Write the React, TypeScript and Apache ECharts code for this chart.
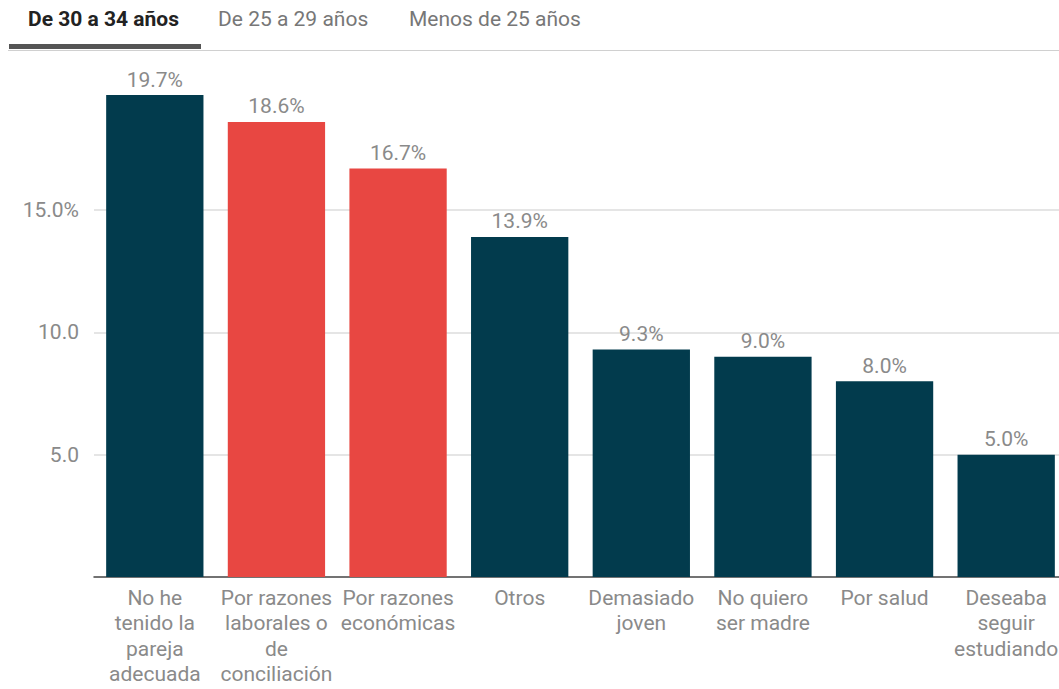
import React, { useEffect, useRef } from "react";
import * as echarts from "echarts";

const categories = [
  "No he\ntenido la\npareja\nadecuada",
  "Por razones\nlaborales o\nde\nconciliación",
  "Por razones\neconómicas",
  "Otros",
  "Demasiado\njoven",
  "No quiero\nser madre",
  "Por salud",
  "Deseaba\nseguir\nestudiando",
];
const values = [19.7, 18.6, 16.7, 13.9, 9.3, 9.0, 8.0, 5.0];
const highlighted = [false, true, true, false, false, false, false, false];
const tabs = ["De 30 a 34 años", "De 25 a 29 años", "Menos de 25 años"];
const tabX = [28, 218, 409];

const DARK = "#023b4d";
const RED = "#e84742";
const FONT = "Roboto, 'Noto Sans', sans-serif";
const FS = 21;

export default function App() {
  const ref = useRef<HTMLDivElement>(null);
  useEffect(() => {
    if (!ref.current) return;
    const chart = echarts.init(ref.current, undefined, { renderer: "svg" });
    chart.setOption({
      animation: false,
      backgroundColor: "#ffffff",
      textStyle: { fontFamily: FONT },
      grid: {
        left: 94,
        right: 0,
        top: 95,
        bottom: 112,
        containLabel: false,
        outerBoundsMode: "none",
      },
      xAxis: {
        type: "category",
        data: categories,
        axisTick: { show: false },
        axisLine: { show: true, lineStyle: { color: "#444", width: 1.5 } },
        axisLabel: {
          color: "#8a8a8a",
          fontSize: FS,
          lineHeight: 25.5,
          margin: 8,
          interval: 0,
          fontFamily: FONT,
        },
      },
      yAxis: {
        type: "value",
        min: 0,
        max: 19.7,
        interval: 5,
        axisLine: { show: false },
        axisTick: { show: false },
        splitLine: {
          show: true,
          showMinLine: false,
          showMaxLine: false,
          lineStyle: { color: "#dcdcdc", width: 1.5 },
        },
        axisLabel: {
          showMinLabel: false,
          showMaxLabel: false,
          color: "#8a8a8a",
          fontSize: FS,
          margin: 15,
          fontFamily: FONT,
          formatter: (v: number) => (v === 15 ? "15.0%" : v.toFixed(1)),
        },
      },
      series: [
        {
          type: "bar",
          barCategoryGap: "20%",
          data: values.map((v, i) => ({
            value: v,
            itemStyle: { color: highlighted[i] ? RED : DARK },
          })),
          label: {
            show: true,
            position: "top",
            distance: 5,
            color: "#8a8a8a",
            fontSize: FS,
            fontFamily: FONT,
            formatter: (p: any) => p.value.toFixed(1) + "%",
          },
        },
      ],
      graphic: [
        ...tabs.map((t, i) => ({
          type: "text",
          left: tabX[i],
          top: 8,
          style: {
            text: t,
            fontSize: FS,
            fontFamily: FONT,
            fontWeight: i === 0 ? "bold" : "normal",
            fill: i === 0 ? "#222222" : "#777777",
          },
        })),
        {
          type: "rect",
          shape: { x: 8, y: 50, width: 1059, height: 1 },
          style: { fill: "#d0d0d0" },
        },
        {
          type: "rect",
          shape: { x: 9, y: 44, width: 192, height: 5 },
          style: { fill: "#555555" },
        },
      ],
    });
    return () => chart.dispose();
  }, []);
  return (
    <div
      style={{
        position: "fixed",
        left: 0,
        top: 0,
        width: 1059,
        height: 689,
        overflow: "hidden",
      }}
    >
      <div ref={ref} style={{ width: 1067, height: 689 }} />
    </div>
  );
}
